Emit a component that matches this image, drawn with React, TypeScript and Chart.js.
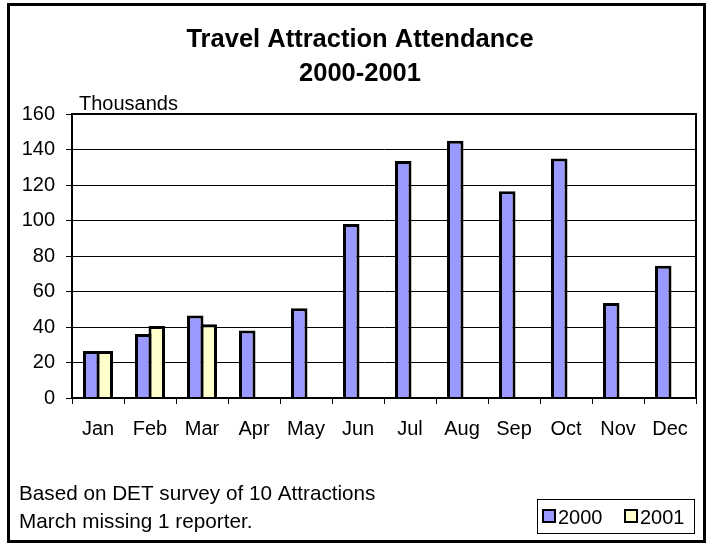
import React, { useEffect, useRef } from "react";
import { Chart, registerables } from "chart.js";

Chart.register(...registerables);

const months = ["Jan", "Feb", "Mar", "Apr", "May", "Jun", "Jul", "Aug", "Sep", "Oct", "Nov", "Dec"];
const values2000 = [26.5, 36, 46.5, 38, 50.5, 98, 133.5, 145, 116.5, 135, 53.5, 74.5];
const values2001: (number | null)[] = [26.5, 40.5, 41.5, null, null, null, null, null, null, null, null, null];
const seriesNames = ["2000", "2001"];
const seriesColors = ["#9999FF", "#FFFFCC"];
const titleLines = ["Travel Attraction Attendance", "2000-2001"];
const unitLabel = "Thousands";
const footnotes = ["Based on DET survey of 10 Attractions", "March missing 1 reporter."];

const FONT = "'Liberation Sans', Arial, sans-serif";

const decorPlugin = {
  id: "decor",
  beforeDraw(chart: any) {
    const ctx = chart.ctx;
    ctx.save();
    ctx.fillStyle = "#fff";
    ctx.fillRect(0, 0, chart.width, chart.height);
    ctx.restore();
  },
  afterDraw(chart: any) {
    const ctx = chart.ctx;
    const a = chart.chartArea;
    ctx.save();
    // plot frame
    ctx.strokeStyle = "#000";
    ctx.lineWidth = 2;
    ctx.strokeRect(a.left, a.top, a.right - a.left, a.bottom - a.top);
    // outer border
    ctx.lineWidth = 3;
    ctx.strokeRect(8.5, 4.5, 696, 537);
    // title
    ctx.fillStyle = "#000";
    ctx.textAlign = "center";
    ctx.textBaseline = "alphabetic";
    ctx.font = `bold 25.5px ${FONT}`;
    ctx.fillText(titleLines[0], 360, 47);
    ctx.fillText(titleLines[1], 360, 81);
    // unit label
    ctx.textAlign = "left";
    ctx.font = `20px ${FONT}`;
    ctx.fillText(unitLabel, 79, 110);
    // footnotes
    ctx.font = `20.7px ${FONT}`;
    ctx.fillText(footnotes[0], 19, 500);
    ctx.fillText(footnotes[1], 19, 528);
    // legend
    ctx.font = `20px ${FONT}`;
    ctx.lineWidth = 1;
    ctx.strokeRect(537.5, 499.5, 157, 34);
    const ds = chart.data.datasets;
    const starts = [543, 625];
    ds.forEach((d: any, i: number) => {
      const x = starts[i];
      ctx.fillStyle = d.backgroundColor;
      ctx.fillRect(x, 510, 12, 12);
      ctx.lineWidth = 2;
      ctx.strokeStyle = "#000";
      ctx.strokeRect(x, 510, 12, 12);
      ctx.fillStyle = "#000";
      ctx.fillText(d.label, x + 15, 524);
    });
    ctx.restore();
  },
};

export default function App() {
  const ref = useRef<HTMLCanvasElement>(null);
  useEffect(() => {
    if (!ref.current) return;
    const chart = new Chart(ref.current, {
      type: "bar",
      data: {
        labels: months,
        datasets: [
          {
            label: seriesNames[0],
            data: values2000,
            backgroundColor: seriesColors[0],
            borderColor: "#000",
            borderWidth: 3,
            categoryPercentage: 0.519,
            barPercentage: 1.222,
          },
          {
            label: seriesNames[1],
            data: values2001,
            backgroundColor: seriesColors[1],
            borderColor: "#000",
            borderWidth: 3,
            categoryPercentage: 0.519,
            barPercentage: 1.222,
          },
        ],
      },
      options: {
        responsive: false,
        animation: false,
        devicePixelRatio: 1,
        layout: { padding: { left: 0, right: 16, top: 114, bottom: 100 } },
        plugins: {
          legend: { display: false },
          title: { display: false },
          tooltip: { enabled: false },
        },
        scales: {
          x: {
            offset: true,
            grid: {
              display: true,
              drawOnChartArea: false,
              drawTicks: true,
              tickLength: 6,
              color: "#000",
              lineWidth: 1,
              offset: true,
            },
            border: { display: true, color: "#000", width: 2 },
            ticks: {
              color: "#000",
              font: { family: FONT, size: 20 },
              padding: 13,
              maxRotation: 0,
              autoSkip: false,
            },
            afterFit: (s: any) => {
              s.height = 50;
            },
          },
          y: {
            min: 0,
            max: 160,
            grid: {
              color: "#000",
              lineWidth: 1,
              drawTicks: true,
              tickLength: 6,
            },
            border: { display: true, color: "#000", width: 2 },
            ticks: {
              stepSize: 20,
              color: "#000",
              font: { family: FONT, size: 20 },
              padding: 11,
            },
            afterFit: (s: any) => {
              s.width = 72;
            },
          },
        },
      },
      plugins: [decorPlugin],
    });
    return () => chart.destroy();
  }, []);
  return (
    <div style={{ position: "absolute", left: 0, top: 0, width: 712, height: 548 }}>
      <canvas ref={ref} width={712} height={548} />
    </div>
  );
}
